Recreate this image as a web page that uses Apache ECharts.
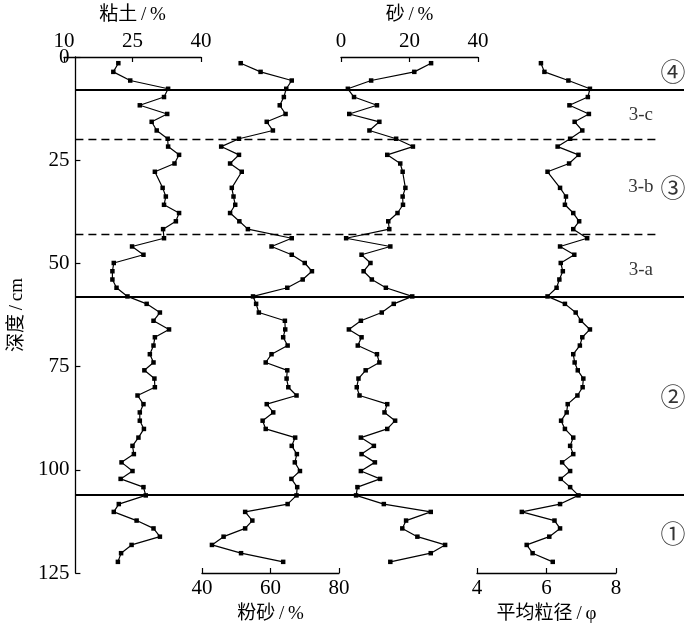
<!DOCTYPE html>
<html><head><meta charset="utf-8">
<script src="https://cdn.jsdelivr.net/npm/echarts@6.0.0/dist/echarts.min.js"></script>
<style>html,body{margin:0;padding:0;background:#fff}#c{width:700px;height:631px}</style>
</head><body><div id="c"></div>
<script>
// sample depths (cm)
const depths = [1.5,3.6,5.7,7.7,9.7,11.7,13.8,15.7,17.8,19.8,
  21.7,23.7,25.8,27.8,31.7,33.8,35.8,37.8,39.8,41.7,
  43.9,45.9,47.9,49.9,51.9,53.9,55.9,58.0,59.8,61.9,
  63.9,66.0,67.9,69.9,72.0,74.0,75.9,77.9,80.0,82.0,
  84.1,86.1,88.1,90.1,92.2,94.2,96.2,98.2,100.3,102.2,
  104.2,106.2,108.3,110.2,112.3,114.2,116.2,118.2,120.2,122.3];
// 粘土 clay %
const clay = [21.9,20.8,24.5,32.8,31.9,26.6,32.6,29.2,30.3,32.7,
  32.8,35.2,34.2,29.9,31.6,32.3,31.9,35.2,34.5,31.7,
  31.9,24.9,27.4,20.9,20.6,20.6,21.5,23.9,28.1,31.0,
  29.6,33.0,29.9,29.6,28.8,29.6,27.6,29.8,29.9,26.1,
  27.4,26.6,26.6,27.5,26.3,25.0,25.3,22.6,25.0,22.4,
  27.4,27.9,22.0,20.9,25.9,29.6,31.0,24.8,22.5,21.8];
// 粉砂 silt %
const silt = [51.3,57.1,66.2,64.6,63.9,62.7,64.4,58.9,60.7,50.8,
  45.6,50.8,48.2,51.6,48.7,49.2,49.7,48.2,50.9,53.4,
  66.2,60.3,66.2,70.0,72.1,69.4,64.9,54.9,55.8,56.6,
  64.2,64.3,63.7,65.0,60.3,58.6,64.9,64.7,65.2,67.6,
  58.9,60.8,57.7,58.6,67.2,66.2,67.7,67.1,68.6,66.1,
  67.8,67.6,65.0,52.6,54.7,52.6,46.3,42.9,51.4,63.7];
// 砂 sand %
const sand = [26.3,21.4,8.8,2.0,3.8,10.5,2.4,11.2,8.3,16.1,
  21.0,13.5,17.3,18.0,18.8,18.0,18.1,16.5,13.8,14.1,
  1.5,14.4,6.0,8.6,6.6,9.0,13.1,20.8,15.4,11.9,
  5.8,2.3,6.0,4.9,10.5,11.2,7.2,5.1,4.6,5.4,
  13.5,12.7,15.8,13.5,5.8,9.6,6.0,9.9,5.8,11.4,
  4.8,4.4,12.5,26.2,19.0,17.9,22.3,30.4,26.2,14.4];
// 平均粒径 mean grain size (phi)
const grain = [5.84,5.94,6.63,7.25,7.19,6.66,7.22,6.81,7.03,6.68,
  6.32,6.92,6.65,6.03,6.39,6.56,6.53,6.77,6.94,6.77,
  7.17,6.39,6.80,6.41,6.47,6.37,6.29,6.03,6.53,6.84,
  6.99,7.25,7.03,6.96,6.77,6.81,6.90,7.06,7.04,6.89,
  6.61,6.58,6.42,6.53,6.77,6.68,6.77,6.45,6.68,6.41,
  6.68,6.92,6.39,5.29,6.23,6.39,6.08,5.43,5.60,6.18];
// unit boundaries (cm)
const solidBounds = [8, 58, 106];
const dashedBounds = [20, 43];
// unit annotations
const annoText = ['④','3-c','3-b','③','3-a','②','①'];
const annoDepth = [3.6, 14.0, 31.5, 31.5, 51.6, 82.3, 115.4];

const SERIF = "'Liberation Serif','Times New Roman','Noto Sans CJK SC',serif";
const CJK = "'Noto Sans CJK SC',sans-serif";
const BLACK = '#000';

function xAx(gi, pos, min, max, interval, name) {
  return {
    gridIndex: gi, type: 'value', position: pos, min: min, max: max, interval: interval,
    axisLine: {show: true, onZero: false, lineStyle: {color: BLACK, width: 1.3}},
    axisTick: {show: true, inside: true, length: 5, lineStyle: {color: BLACK, width: 1.2}},
    axisLabel: {show: true, color: BLACK, fontFamily: SERIF, fontSize: 21, margin: 5},
    splitLine: {show: false},
    name: name, nameLocation: 'middle', nameGap: 32,
    nameTextStyle: {color: BLACK, fontFamily: SERIF, fontSize: 19}
  };
}
function hiddenY(gi) {
  return {gridIndex: gi, type: 'value', min: 0, max: 125, inverse: true, show: false};
}
function prof(xi, vals) {
  return {
    type: 'line', xAxisIndex: xi, yAxisIndex: xi,
    data: depths.map((d, i) => [vals[i], d]),
    symbol: 'rect', symbolSize: 4.5, showSymbol: true,
    itemStyle: {color: BLACK}, lineStyle: {color: BLACK, width: 1.2},
    animation: false, silent: true, z: 5
  };
}

const annoX = (t) => (t.length === 1 ? 0.982 : 0.929);

const chart = echarts.init(document.getElementById('c'), null, {renderer: 'canvas'});
chart.setOption({
  backgroundColor: '#fff',
  animation: false,
  grid: [
    {left: 64, top: 57, width: 620, height: 516},
    {left: 64, top: 57, width: 137, height: 516},
    {left: 202, top: 57, width: 137, height: 516},
    {left: 341, top: 57, width: 137, height: 516},
    {left: 477, top: 57, width: 139, height: 516}
  ],
  xAxis: [
    {gridIndex: 0, type: 'value', min: 0, max: 1, show: false},
    xAx(1, 'top', 10, 40, 15, '粘土\u2009/\u2009%'),
    xAx(2, 'bottom', 40, 80, 20, '粉砂\u2009/\u2009%'),
    xAx(3, 'top', 0, 40, 20, '砂\u2009/\u2009%'),
    xAx(4, 'bottom', 4, 8, 2, '平均粒径\u2009/\u2009φ')
  ],
  yAxis: [
    {
      gridIndex: 0, type: 'value', min: 0, max: 125, interval: 25, inverse: true,
      axisLine: {show: true, lineStyle: {color: BLACK, width: 1.3}},
      axisTick: {show: true, inside: true, length: 5, lineStyle: {color: BLACK, width: 1.2}},
      axisLabel: {color: BLACK, fontFamily: SERIF, fontSize: 21, margin: 6},
      splitLine: {show: false},
      name: '深度\u2009/\u2009cm', nameLocation: 'middle', nameGap: 41, nameRotate: 90,
      nameTextStyle: {color: BLACK, fontFamily: SERIF, fontSize: 19}
    },
    hiddenY(1), hiddenY(2), hiddenY(3), hiddenY(4)
  ],
  series: [
    prof(1, clay), prof(2, silt), prof(3, sand), prof(4, grain),
    {
      type: 'scatter', xAxisIndex: 0, yAxisIndex: 0, symbolSize: 0, silent: true,
      data: annoText.map((t, i) => ({
        name: t, value: [annoX(t), annoDepth[i]],
        label: {
          show: true, position: 'inside', formatter: t, color: BLACK,
          fontFamily: t.length === 1 ? CJK : SERIF, fontSize: t.length === 1 ? 25 : 19
        }
      })),
      markLine: {
        silent: true, symbol: ['none', 'none'], label: {show: false},
        data: solidBounds.map(d => ({yAxis: d, lineStyle: {color: BLACK, width: 2, type: 'solid'}}))
          .concat(dashedBounds.map(d => [
            {coord: [0, d], lineStyle: {color: BLACK, width: 1.3, type: [8, 5]}},
            {coord: [0.958, d]}
          ]))
      }
    }
  ]
});
</script></body></html>
